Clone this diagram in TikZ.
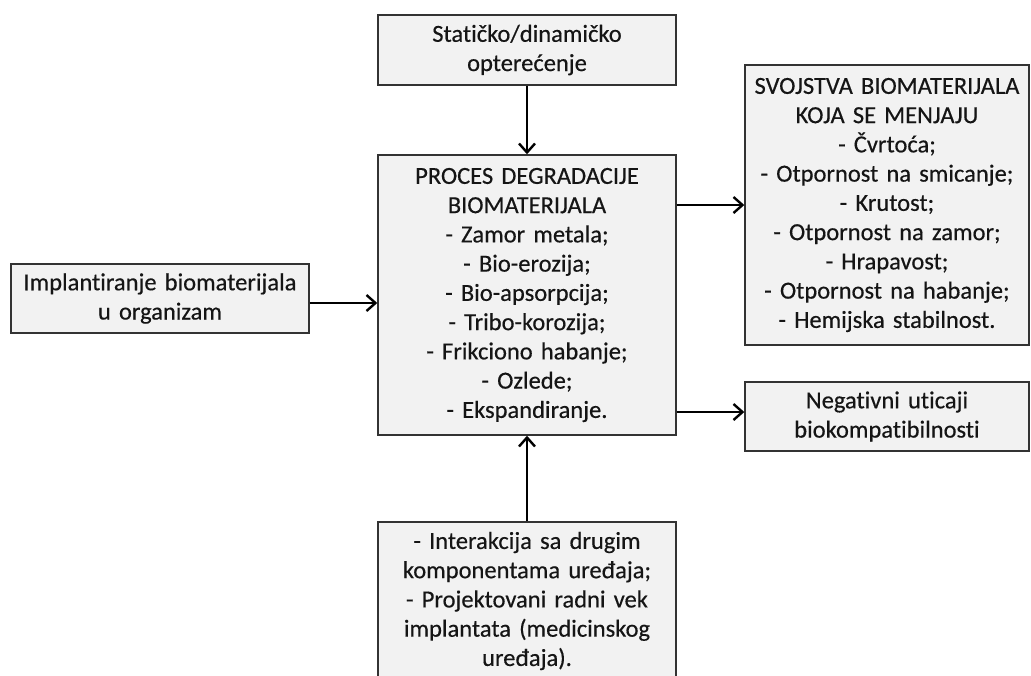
\documentclass[tikz,border=0pt]{standalone}
\usepackage{fontspec}
\setmainfont[Ligatures=NoCommon, WordSpace=0.7, FakeBold=0.4]{Carlito}
\usetikzlibrary{arrows.meta}
\definecolor{boxfill}{HTML}{F2F2F2}
\definecolor{boxline}{HTML}{333333}
\definecolor{ink}{HTML}{151515}
\begin{document}
\begin{tikzpicture}[x=1pt,y=-1pt,
  blk/.style={draw=boxline, fill=boxfill, line width=1.4pt, inner sep=0pt,
    align=center, text=ink, font=\fontsize{24.5}{29.25}\selectfont},
  flow/.style={line width=2.4pt, -{Straight Barb[length=9pt,width=16pt,line width=2.4pt]}}]
\useasboundingbox (0,0) rectangle (1031,675);
\clip (0,0) rectangle (1031,675);

\node[blk, minimum width=298pt, minimum height=70pt, text width=290pt] (load) at (527,50)
  {Statičko/dinamičko\\opterećenje};
\node[blk, minimum width=298pt, minimum height=280pt, text width=290pt] (proc) at (527,295)
  {PROCES DEGRADACIJE\\BIOMATERIJALA\\- Zamor metala;\\- Bio-erozija;\\- Bio-apsorpcija;\\- Tribo-korozija;\\- Frikciono habanje;\\- Ozlede;\\- Ekspandiranje.};
\node[blk, minimum width=298pt, minimum height=69pt, text width=290pt] (impl) at (160,298.5)
  {Implantiranje biomaterijala\\u organizam};
\node[blk, minimum width=284pt, minimum height=280pt, text width=278pt] (prop) at (887,205)
  {SVOJSTVA BIOMATERIJALA\\KOJA SE MENJAJU\\- Čvrtoća;\\- Otpornost na smicanje;\\- Krutost;\\- Otpornost na zamor;\\- Hrapavost;\\- Otpornost na habanje;\\- Hemijska stabilnost.};
\node[blk, minimum width=284pt, minimum height=69pt, text width=278pt] (neg) at (887,416.5)
  {Negativni uticaji\\biokompatibilnosti};
\node[blk, minimum width=298pt, minimum height=158pt, text width=290pt] (inter) at (527,601)
  {- Interakcija sa drugim\\komponentama uređaja;\\- Projektovani radni vek\\implantata (medicinskog\\uređaja).};

\coordinate (implout) at ([yshift=-4.5pt]impl.east);
\coordinate (negin) at ([yshift=4.5pt]neg.west);

\draw[flow] (load.south) -- (proc.north);
\draw[flow] (implout) -- (implout -| proc.west);
\draw[flow] (prop.west -| proc.east) -- (prop.west);
\draw[flow] (negin -| proc.east) -- (negin);
\draw[flow] (inter.north) -- (proc.south);
\end{tikzpicture}
\end{document}
